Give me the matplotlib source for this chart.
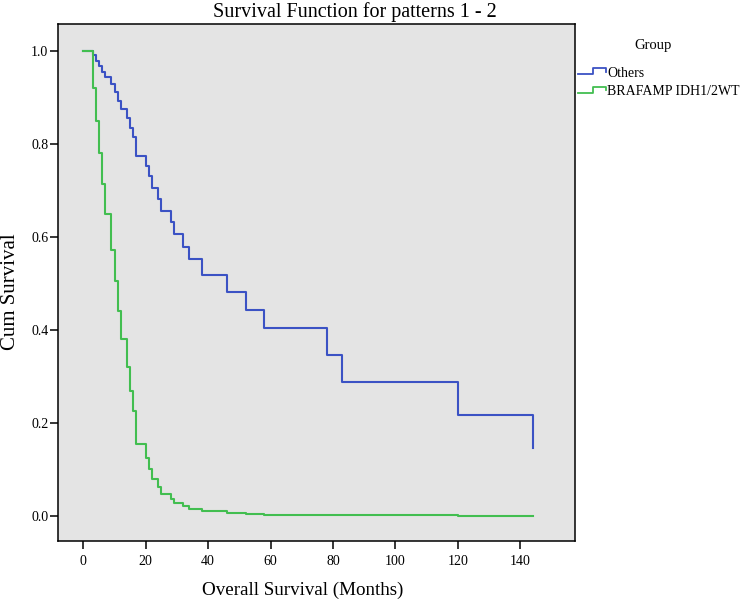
import matplotlib
matplotlib.use("Agg")
from matplotlib import pyplot as plt
from matplotlib.legend_handler import HandlerBase
from matplotlib.lines import Line2D

plt.rcParams['font.family'] = ['Liberation Serif', 'DejaVu Serif']

# months at which the survival function steps down
times = [0, 3, 4, 5, 6, 7, 9, 10, 11, 12, 14, 15, 16, 17, 20, 21, 22, 24, 25,
         28, 29, 32, 34, 38, 46, 52, 58, 78, 83, 120, 144]

# cumulative survival, group "Others"
others = [1.0, 0.991, 0.979, 0.968, 0.955, 0.943, 0.928, 0.911, 0.893, 0.875,
          0.855, 0.835, 0.815, 0.773, 0.752, 0.730, 0.706, 0.681, 0.656, 0.631,
          0.606, 0.579, 0.552, 0.517, 0.481, 0.443, 0.403, 0.346, 0.288, 0.217,
          0.145]

# cumulative survival, group "BRAFAMP IDH1/2WT"
braf = [1.0, 0.921, 0.849, 0.781, 0.714, 0.649, 0.572, 0.505, 0.440, 0.380,
        0.320, 0.268, 0.225, 0.154, 0.125, 0.101, 0.079, 0.061, 0.047, 0.036,
        0.027, 0.021, 0.015, 0.010, 0.0065, 0.004, 0.002, 0.001, 0.0007, 0.0003,
        0.0002]

group_names = ["Others", "BRAFAMP IDH1/2WT"]
colors = ["#3B52C4", "#42BE50"]

xticks = [0, 20, 40, 60, 80, 100, 120, 140]
yticks = [0.0, 0.2, 0.4, 0.6, 0.8, 1.0]


class StepHandler(HandlerBase):
    # small step shaped icon like the spss legend
    def create_artists(self, legend, orig, xd, yd, w, h, fontsize, trans):
        xs = [xd, xd + 0.55*w, xd + 0.55*w, xd + w, xd + w]
        ys = [yd + 0.1*h, yd + 0.1*h, yd + 0.65*h, yd + 0.65*h, yd + 0.35*h]
        ln = Line2D(xs, ys, color=orig.get_color(), lw=1.3)
        ln.set_transform(trans)
        return [ln]


fig = plt.figure(figsize=(7.44, 6.0), dpi=100)
ax = fig.add_axes([58/744, 1 - 541/600, (575 - 58)/744, (541 - 24)/600])
ax.set_facecolor("#E4E4E4")

h1, = ax.step(times, others, where='post', color=colors[0], lw=1.5)
h2, = ax.step(times, braf, where='post', color=colors[1], lw=1.5)

ax.set_xlim(-8.1, 157.5)
ax.set_ylim(-0.0545, 1.058)
ax.set_xticks(xticks)
ax.set_yticks(yticks)
ax.set_yticklabels(["%.1f" % v for v in yticks])
ax.tick_params(axis='both', direction='out', length=6, width=1.1,
               labelsize=10, color='black')
ax.tick_params(axis='y', pad=1)
ax.tick_params(axis='x', pad=4)
for s in ax.spines.values():
    s.set_linewidth(1.1)
    s.set_color('black')

fig.text(355/744, 1 - 12/600, "Survival Function for patterns 1 - 2",
         ha='center', va='center', fontsize=14.5)
fig.text(303/744, 1 - 590/600, "Overall Survival (Months)",
         ha='center', va='center', fontsize=13.7)
fig.text(11/744, 1 - 292/600, "Cum Survival", rotation=90,
         ha='center', va='center', fontsize=15)

fig.text(653/744, 1 - 45/600, "Group", ha='center', va='center', fontsize=10.5)
fig.legend([h1, h2], group_names, loc='upper left',
           bbox_to_anchor=(578/744, 1 - 66/600), frameon=False,
           borderpad=0, borderaxespad=0, handlelength=2.0, handleheight=0.9,
           handletextpad=0.1, labelspacing=0.35, fontsize=10,
           handler_map={Line2D: StepHandler()})

fig.savefig("out.png", dpi=100)
